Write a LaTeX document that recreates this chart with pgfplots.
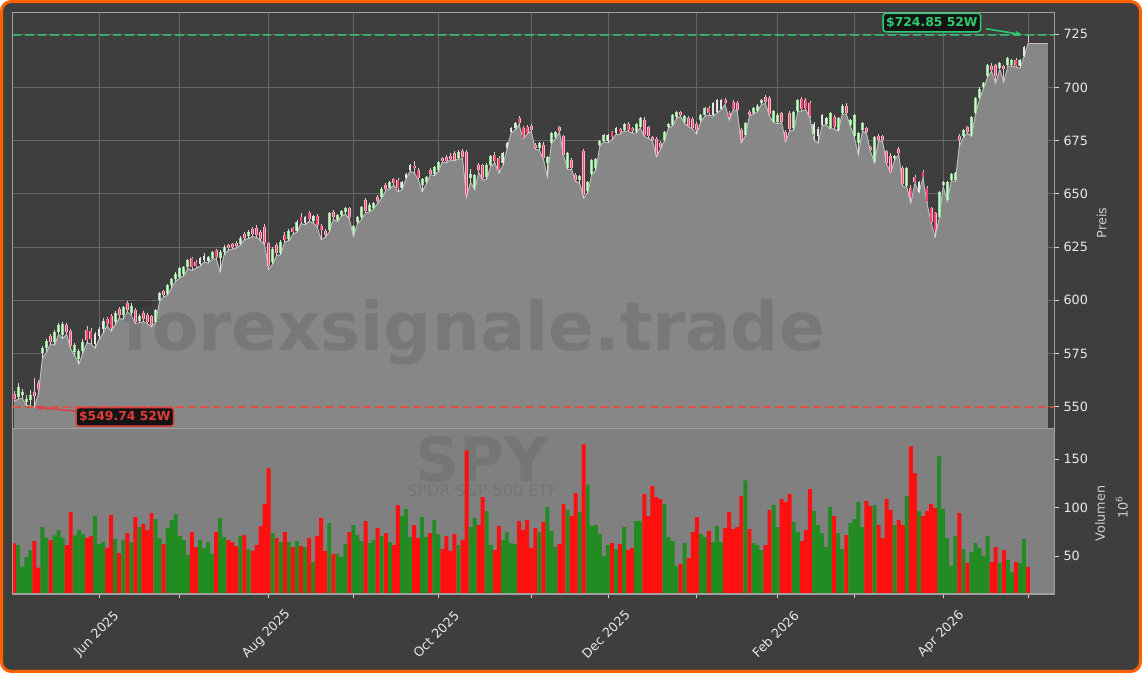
\documentclass[border=0pt]{standalone}
\usepackage{pgfplots}
\pgfplotsset{compat=1.18}
\usepackage{pgfplotstable}
\usepackage{fontspec}
\setmainfont{DejaVu Sans}
\usetikzlibrary{arrows.meta}
\definecolor{bgdark}{HTML}{3E3E3E}
\definecolor{areagray}{HTML}{878787}
\definecolor{arealine}{HTML}{BDBDBD}
\definecolor{volbg}{HTML}{808080}
\definecolor{gridcol}{HTML}{666666}
\definecolor{spinecol}{HTML}{A0A0A0}
\definecolor{tickcol}{HTML}{D9D9D9}
\definecolor{ticklab}{HTML}{E8E8E8}
\definecolor{labcol}{HTML}{CFCFCF}
\definecolor{volgreen}{HTML}{228B22}
\definecolor{volred}{HTML}{FF1010}
\definecolor{upedge}{HTML}{8EE08E}
\definecolor{upfill}{HTML}{E2E8E2}
\definecolor{dnedge}{HTML}{FFB6C6}
\definecolor{dnfill}{HTML}{EE4A74}
\definecolor{upwick}{HTML}{CFE3CF}
\definecolor{dnwick}{HTML}{EDC8D2}
\definecolor{hiline}{HTML}{2ECC71}
\definecolor{loline}{HTML}{E74C3C}
\definecolor{lotext}{HTML}{E03C3C}
\definecolor{boxfill}{HTML}{141414}
\definecolor{borderorange}{HTML}{FF6000}

\pgfplotstableread{
i o h l c v
0 556.0 557.5 552.5 553.5 63.1
1 554.5 561.0 553.5 559.5 61.3
2 555.5 558.5 554.0 557.0 39.0
3 552.0 555.5 550.6 553.5 49.0
4 553.0 558.0 550.3 555.5 56.2
5 557.0 563.5 549.74 555.0 65.5
6 561.0 562.5 556.0 558.5 38.0
7 575.0 578.5 573.0 577.5 79.9
8 577.5 582.0 575.5 581.0 68.9
9 583.0 584.0 579.5 580.5 66.5
10 580.5 586.0 579.0 585.0 71.3
11 585.0 589.5 584.0 588.5 76.8
12 583.5 590.0 582.0 589.0 68.6
13 588.5 589.5 584.0 585.0 61.3
14 585.5 586.5 577.0 578.5 95.4
15 575.5 580.0 574.0 579.0 71.3
16 572.5 577.0 570.0 576.0 76.8
17 576.0 582.0 575.0 580.5 72.7
18 586.0 588.0 580.0 581.5 68.6
19 585.5 587.0 579.5 582.0 70.6
20 579.5 585.0 577.5 584.0 91.2
21 583.0 587.5 581.5 586.5 62.4
22 586.5 591.5 584.5 590.5 64.4
23 591.0 592.0 588.0 589.0 58.6
24 592.5 593.5 585.5 587.0 92.3
25 590.0 595.0 588.5 594.0 67.5
26 596.0 597.0 591.5 593.0 53.1
27 593.0 597.5 591.0 597.0 66.5
28 598.5 599.5 594.5 595.5 73.7
29 594.0 598.5 593.0 597.5 64.4
30 595.5 596.5 589.0 590.0 90.2
31 590.5 593.5 589.5 592.5 79.9
32 594.0 595.0 590.0 591.0 83.0
33 593.0 594.0 589.0 590.0 76.8
34 592.5 593.0 587.5 588.5 94.3
35 590.0 596.0 589.5 595.5 88.1
36 600.0 604.0 599.5 603.5 68.6
37 604.5 605.0 601.5 602.5 62.4
38 603.0 607.5 602.5 607.0 78.9
39 607.0 610.5 606.0 610.0 87.1
40 610.0 613.5 609.0 612.5 93.3
41 611.0 615.5 610.5 615.0 70.6
42 612.5 616.0 611.5 615.5 66.5
43 615.5 619.5 615.0 619.0 51.0
44 620.0 620.5 614.0 615.5 74.7
45 618.0 619.0 615.0 616.0 59.3
46 617.0 620.5 616.0 620.0 66.5
47 619.0 622.0 618.0 621.0 58.3
48 618.5 621.0 617.5 620.5 64.4
49 620.0 623.0 619.5 622.5 52.1
50 623.5 624.0 619.5 620.5 74.7
51 620.0 623.5 613.3 622.5 89.2
52 622.5 626.0 621.5 625.0 69.6
53 626.0 626.5 623.5 624.5 66.5
54 626.5 627.0 624.0 625.0 64.4
55 627.0 628.0 624.5 625.5 60.3
56 626.5 630.0 626.0 629.5 70.6
57 631.0 632.0 628.5 629.5 71.7
58 630.0 633.0 629.0 632.0 57.2
59 633.5 634.5 630.0 631.0 55.2
60 634.0 635.5 629.5 630.5 61.3
61 632.0 633.0 628.0 629.0 80.9
62 634.5 636.0 626.0 627.0 103.6
63 627.0 627.5 614.5 616.0 140.7
64 618.0 625.0 617.0 624.0 73.7
65 626.0 627.0 621.0 622.0 68.6
66 622.0 628.5 621.5 627.5 64.4
67 630.5 632.0 627.5 628.5 74.7
68 629.0 633.5 628.0 632.5 64.4
69 634.0 634.5 631.0 632.0 59.3
70 632.5 637.5 632.0 637.0 65.5
71 639.0 641.0 636.0 637.0 60.3
72 636.5 639.5 635.5 639.0 59.3
73 641.0 642.0 637.0 638.0 68.6
74 637.5 640.0 636.5 639.5 43.8
75 639.5 640.5 634.5 635.5 70.6
76 635.0 636.0 628.5 633.0 89.2
77 632.5 633.5 629.5 630.5 55.2
78 633.0 641.5 632.0 641.0 84.0
79 641.5 642.5 638.0 639.0 52.1
80 637.5 640.5 637.0 640.0 52.1
81 640.0 642.5 639.5 642.0 49.0
82 641.5 644.0 640.5 643.5 62.4
83 643.5 644.0 638.0 639.0 74.7
84 631.5 635.5 630.0 635.0 82.0
85 637.0 639.5 636.0 639.0 71.7
86 639.0 644.5 638.0 644.0 65.5
87 647.0 648.0 641.0 642.0 86.1
88 642.0 645.5 641.5 645.0 63.4
89 643.5 646.0 643.0 645.5 66.5
90 648.5 649.5 645.5 646.5 78.9
91 648.5 653.0 648.0 652.5 70.6
92 654.0 655.0 651.5 652.5 73.7
93 653.0 656.0 652.5 655.5 64.4
94 657.0 657.5 654.0 655.0 61.3
95 656.5 657.5 651.0 653.0 102.6
96 653.0 656.0 652.0 655.5 91.2
97 657.5 660.0 657.0 659.5 98.5
98 661.0 664.0 660.5 663.5 69.6
99 663.0 665.5 660.0 662.0 82.0
100 661.0 662.0 657.0 657.5 68.6
101 654.0 657.5 651.0 657.0 90.2
102 655.5 658.5 654.5 658.0 69.6
103 661.0 662.0 659.0 659.5 73.7
104 659.5 663.0 658.5 662.5 87.1
105 661.0 665.5 660.5 665.0 72.7
106 667.0 667.5 665.0 665.5 57.2
107 667.5 668.5 664.5 665.5 70.6
108 668.0 669.0 666.0 666.5 55.2
109 669.0 670.0 665.5 666.0 72.7
110 667.0 670.5 666.5 669.5 61.3
111 670.0 671.0 666.5 667.5 66.5
112 669.5 670.5 648.6 649.5 159.3
113 657.5 661.5 655.5 659.5 79.9
114 653.0 659.5 652.0 659.0 89.2
115 663.5 664.5 660.0 661.0 82.0
116 663.5 664.0 656.5 657.5 110.8
117 658.0 664.5 657.0 663.5 96.4
118 663.5 668.5 663.0 668.0 61.3
119 668.5 669.5 664.5 665.5 56.2
120 667.0 668.0 659.7 661.0 80.9
121 664.5 669.5 663.5 669.0 66.5
122 671.5 674.5 671.0 674.0 74.7
123 679.0 681.5 678.5 681.0 63.4
124 681.0 684.0 680.0 683.5 62.4
125 685.5 686.5 682.5 683.5 86.1
126 681.0 682.0 676.0 676.5 76.8
127 681.5 682.5 678.0 678.5 87.1
128 682.0 683.0 679.5 680.0 58.3
129 673.0 674.0 671.0 671.5 78.9
130 671.5 674.5 670.5 674.0 74.7
131 673.0 674.5 666.5 667.0 85.1
132 664.5 668.0 658.0 667.5 100.5
133 674.0 679.0 673.5 678.5 75.8
134 676.5 679.5 676.0 679.0 59.3
135 681.5 682.0 679.0 679.5 62.4
136 677.0 677.5 668.0 668.5 103.6
137 662.0 669.5 661.5 669.0 97.4
138 666.0 667.0 661.5 662.0 91.2
139 659.0 660.0 656.0 656.5 115.0
140 656.5 659.0 655.0 658.5 95.4
141 670.0 671.0 648.0 649.5 165.5
142 651.5 656.0 650.5 655.5 124.2
143 659.5 666.5 659.0 666.0 80.9
144 662.0 667.0 661.0 666.5 82.0
145 673.0 675.5 672.5 675.0 72.7
146 675.0 678.0 674.5 677.5 50.0
147 675.0 678.0 674.0 677.5 61.3
148 679.0 679.5 675.5 676.5 63.4
149 678.5 681.5 678.0 681.0 57.2
150 680.5 681.0 678.0 679.0 62.4
151 680.0 683.5 679.5 683.0 79.9
152 683.0 684.0 679.5 680.0 56.2
153 681.0 681.5 678.5 679.5 58.3
154 679.0 683.5 678.5 683.0 86.1
155 681.5 686.0 681.0 685.5 86.1
156 684.5 686.0 677.0 677.5 113.9
157 681.5 682.0 676.0 677.0 91.2
158 676.5 677.0 675.0 675.5 122.2
159 676.0 676.5 667.4 668.5 110.8
160 674.0 675.0 671.0 672.0 108.8
161 675.5 679.5 675.0 679.0 103.6
162 681.5 683.5 681.0 683.0 69.6
163 682.5 687.5 682.0 687.0 65.5
164 686.0 689.0 685.5 688.5 39.7
165 688.5 689.0 686.5 687.0 41.8
166 684.0 687.0 683.0 686.5 63.4
167 685.5 686.5 681.5 682.0 47.9
168 685.0 686.0 680.5 681.0 74.7
169 683.0 684.0 678.0 680.0 90.2
170 684.5 687.5 684.0 687.0 72.7
171 687.0 691.0 686.5 690.5 69.6
172 690.5 691.5 687.0 688.0 75.8
173 687.0 693.0 686.5 692.5 64.4
174 688.5 694.5 688.0 694.0 80.9
175 690.0 694.5 689.5 694.0 64.4
176 694.0 695.0 692.0 692.5 78.9
177 688.0 689.0 684.7 686.0 95.4
178 693.0 694.0 689.5 690.0 77.8
179 692.5 693.5 689.0 689.5 79.9
180 680.0 681.0 674.0 675.5 111.9
181 677.5 684.0 677.0 683.5 128.3
182 688.5 689.5 686.5 687.0 77.8
183 688.0 691.0 687.5 690.5 63.4
184 689.0 692.0 688.5 691.5 61.3
185 692.5 694.5 692.0 694.0 56.2
186 695.5 696.5 692.5 693.0 61.3
187 695.0 696.0 686.5 687.5 97.4
188 684.0 689.5 683.5 689.0 102.6
189 684.0 688.0 683.0 687.0 79.9
190 688.0 688.5 683.5 684.0 108.8
191 679.0 680.0 674.6 675.5 105.7
192 688.0 689.0 679.5 680.5 113.9
193 681.0 689.0 680.0 688.5 85.0
194 689.0 694.5 688.5 694.0 74.7
195 694.5 695.5 689.0 690.0 65.5
196 694.0 695.0 689.5 690.5 76.8
197 692.5 693.5 685.5 686.5 119.1
198 678.0 684.0 675.3 683.0 96.4
199 677.0 681.5 673.8 680.5 82.0
200 682.5 687.5 682.0 687.0 73.7
201 683.0 686.0 682.5 685.5 59.3
202 681.0 688.5 680.5 688.0 100.5
203 686.0 687.0 680.5 681.5 91.2
204 680.0 686.0 679.5 685.5 73.7
205 688.0 692.0 687.5 691.5 57.2
206 691.5 692.5 687.5 688.0 71.7
207 682.5 685.0 682.0 684.5 84.0
208 677.0 687.5 676.5 687.0 88.1
209 674.0 679.0 668.3 678.5 105.7
210 680.0 684.0 679.5 683.5 79.9
211 681.0 681.5 678.5 679.0 106.7
212 672.0 672.5 670.0 670.5 101.6
213 665.0 677.0 664.5 676.5 102.6
214 677.0 678.0 675.0 675.5 82.0
215 677.0 677.5 674.5 675.5 68.6
216 670.0 670.5 664.0 664.5 108.8
217 668.0 669.0 660.0 660.5 97.4
218 667.0 668.5 666.0 668.0 82.0
219 671.0 672.0 668.5 669.0 87.1
220 662.0 663.0 653.5 654.5 82.0
221 653.5 662.5 653.0 662.0 111.9
222 653.0 654.0 645.7 648.5 163.4
223 658.0 659.0 655.0 655.5 135.6
224 651.0 656.0 650.5 655.5 96.4
225 660.5 661.0 657.5 658.0 91.2
226 653.0 653.5 645.5 646.0 96.4
227 643.5 644.0 636.5 637.0 103.6
228 641.0 641.5 629.6 633.0 99.5
229 639.0 651.5 638.5 651.0 153.1
230 654.0 656.0 653.5 655.5 98.5
231 647.0 656.0 646.5 655.5 68.6
232 656.5 660.0 656.0 659.5 39.7
233 656.5 660.5 656.0 660.0 70.6
234 677.0 678.0 672.5 675.5 94.3
235 677.0 680.5 676.5 680.0 57.2
236 681.5 682.0 678.5 679.0 42.8
237 677.5 686.5 677.0 686.0 54.1
238 688.0 695.5 687.5 695.0 63.4
239 695.0 700.0 694.5 699.5 58.3
240 700.0 702.5 699.5 702.0 50.0
241 705.5 711.0 705.0 710.5 70.6
242 710.0 711.5 707.5 708.0 43.8
243 710.5 711.0 702.0 705.5 59.3
244 709.0 712.0 708.5 711.5 42.8
245 710.0 710.5 702.5 708.5 56.2
246 710.5 714.5 710.0 714.0 45.9
247 710.5 713.5 710.0 713.0 33.5
248 713.0 714.0 709.5 710.0 43.8
249 710.0 713.5 709.0 713.0 42.8
250 715.0 719.5 714.5 719.0 67.5
251 721.5 724.85 720.5 720.8 38.7
}\ohlc

\pgfplotsset{
  candleaxis/.style={
    scale only axis, width=750.1pt, anchor=south west,
    xmin=-0.37, xmax=257.56,
    clip mode=individual,
    axis line style={draw=spinecol, line width=0.8pt},
    xtick={21,41,63,84,105,128,147,169,189,208,230,251},
    xtick pos=bottom, ytick pos=right, yticklabel pos=right,
    tick align=outside, major tick length=3pt,
    tick style={draw=tickcol, line width=0.6pt},
    tick label style={font=\fontsize{9.2}{11}\selectfont, text=ticklab},
    /pgf/number format/assume math mode=true,
  },
  candlebar/.style n args={3}{draw=none, mark=none, forget plot,
    x filter/.expression={#1 ? x : nan},
    error bars/.cd, y dir=both, y explicit, error mark=none,
    error bar style={line width=#2, draw=#3, line cap=butt}},
}

\begin{document}
\begin{tikzpicture}
\useasboundingbox (0,0) rectangle (822.24pt,484.56pt);
\fill[white] (0,0) rectangle (822.24pt,484.56pt);
\draw[draw=borderorange, line width=2.2pt, fill=bgdark, rounded corners=7pt] (1.1pt,1.1pt) rectangle (821.14pt,483.46pt);

% ---------------- price panel ----------------
\begin{axis}[candleaxis,
  height=299.4pt, at={(9.14pt,176.04pt)},
  ymin=539.76, ymax=735.15,
  axis background/.style={fill=bgdark},
  xticklabels={},
  ytick={550,575,600,625,650,675,700,725},
  grid=major, grid style={draw=gridcol, line width=0.6pt},
]
\addplot[fill=areagray, draw=none, forget plot] table[x=i, y=l] {\ohlc} \closedcycle;
\addplot[fill=areagray, draw=none, forget plot] coordinates {(251,720.5) (256,720.5)} \closedcycle;
\addplot[draw=arealine, line width=0.7pt, forget plot] table[x=i, y=l] {\ohlc};
\addplot[draw=arealine, line width=0.7pt, forget plot] coordinates {(251,720.5) (256,720.5)};

\node[text=black, text opacity=0.105, font=\bfseries\fontsize{48.5}{50}\selectfont, anchor=base] at (axis cs:113.8,576.6) {forexsignale.trade};

% wicks
\addplot[candlebar={\thisrow{c}>=\thisrow{o}}{0.55pt}{upwick}]
  table[x=i, y=c, y error plus expr={\thisrow{h}-\thisrow{c}}, y error minus expr={\thisrow{c}-\thisrow{l}}] {\ohlc};
\addplot[candlebar={\thisrow{c}<\thisrow{o}}{0.55pt}{dnwick}]
  table[x=i, y=c, y error plus expr={\thisrow{h}-\thisrow{c}}, y error minus expr={\thisrow{c}-\thisrow{l}}] {\ohlc};
% bodies up
\addplot[candlebar={\thisrow{c}>=\thisrow{o}}{2.1pt}{upedge}]
  table[x=i, y expr={(\thisrow{o}+\thisrow{c})/2}, y error expr={abs(\thisrow{c}-\thisrow{o})/2}] {\ohlc};
\addplot[candlebar={\thisrow{c}>=\thisrow{o}}{0.85pt}{upfill}]
  table[x=i, y expr={(\thisrow{o}+\thisrow{c})/2}, y error expr={abs(\thisrow{c}-\thisrow{o})/2}] {\ohlc};
% bodies down
\addplot[candlebar={\thisrow{c}<\thisrow{o}}{2.1pt}{dnedge}]
  table[x=i, y expr={(\thisrow{o}+\thisrow{c})/2}, y error expr={abs(\thisrow{c}-\thisrow{o})/2}] {\ohlc};
\addplot[candlebar={\thisrow{c}<\thisrow{o}}{1.0pt}{dnfill}]
  table[x=i, y expr={(\thisrow{o}+\thisrow{c})/2}, y error expr={abs(\thisrow{c}-\thisrow{o})/2}] {\ohlc};

% 52W high / low lines
\addplot[draw=hiline, draw opacity=0.75, line width=1.4pt, dash pattern=on 6pt off 3pt, forget plot] coordinates {(-0.37,724.85) (257.56,724.85)};
\addplot[draw=loline, draw opacity=0.85, line width=1.4pt, dash pattern=on 6pt off 3pt, forget plot] coordinates {(-0.37,549.74) (257.56,549.74)};

\draw[hiline, line width=1.1pt, -{Stealth[length=5pt,width=4pt]}] (axis cs:240.6,727.6) -- (axis cs:249.5,724.85);
\node[fill=boxfill, draw=hiline, line width=1.1pt, rounded corners=2pt, text=hiline,
  font=\bfseries\fontsize{8.9}{10}\selectfont, inner xsep=2.2pt, inner ysep=2.6pt] at (axis cs:227.2,730.5) {\$724.85 52W};
\draw[lotext, line width=1.1pt, -{Stealth[length=5pt,width=4pt]}] (axis cs:15.0,548.0) -- (axis cs:5.2,549.74);
\node[fill=boxfill, draw=lotext, line width=1.1pt, rounded corners=2pt, text=lotext,
  font=\bfseries\fontsize{8.9}{10}\selectfont, inner xsep=2.2pt, inner ysep=2.6pt] at (axis cs:27.4,545.2) {\$549.74 52W};
\end{axis}

% ---------------- volume panel ----------------
\begin{axis}[candleaxis,
  height=119.16pt, at={(9.14pt,56.88pt)},
  ymin=10.7, ymax=181.9,
  axis on top,
  axis background/.style={fill=volbg},
  xticklabels={Jun 2025,{},Aug 2025,{},Oct 2025,{},Dec 2025,{},Feb 2026,{},Apr 2026,{}},
  xticklabel style={yshift=-26pt, xshift=-1.5pt, rotate=45, anchor=center},
  ytick={50,100,150},
]
\node[text=black, text opacity=0.08, font=\bfseries\fontsize{44}{46}\selectfont, anchor=base] at (axis cs:115.9,126.8) {SPY};
\node[text=black, text opacity=0.08, font=\fontsize{11.5}{13}\selectfont, anchor=base] at (axis cs:115.9,111.3) {SPDR S\&P 500 ETF};
\addplot[ybar, bar width=0.98, bar shift=0pt, fill=volgreen, draw=none, forget plot,
  x filter/.expression={\thisrow{c}>=\thisrow{o} ? x : nan}] table[x=i, y=v] {\ohlc};
\addplot[ybar, bar width=0.98, bar shift=0pt, fill=volred, draw=none, forget plot,
  x filter/.expression={\thisrow{c}<\thisrow{o} ? x : nan}] table[x=i, y=v] {\ohlc};
\end{axis}

\node[rotate=90, font=\fontsize{9.2}{11}\selectfont, text=labcol] at (793.2pt,324pt) {Preis};
\node[rotate=90, font=\fontsize{9.2}{11}\selectfont, text=labcol] at (792pt,114.8pt) {Volumen};
\node[rotate=90, font=\fontsize{9.2}{11}\selectfont, text=labcol] at (807.6pt,119.1pt) {10\textsuperscript{6}};
\end{tikzpicture}
\end{document}
